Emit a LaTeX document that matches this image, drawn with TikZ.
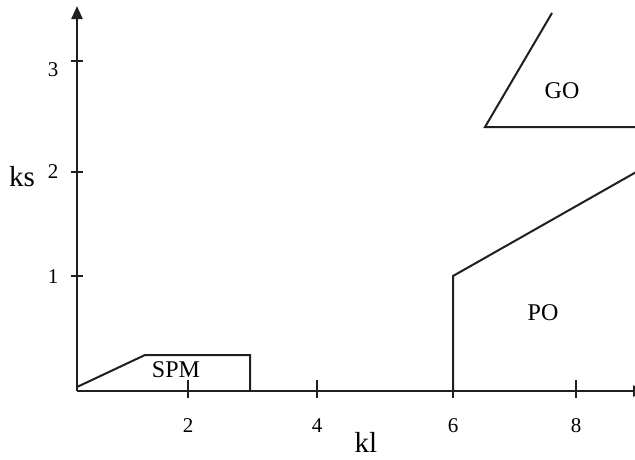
\documentclass[tikz,border=0pt]{standalone}
\usepackage{fontspec}
\setmainfont{Liberation Serif}
\usetikzlibrary{arrows.meta}
\begin{document}
\begin{tikzpicture}[x=1pt,y=-1pt,
  axisline/.style={line width=2.3pt,draw=black!88},
  regionline/.style={line width=2pt,draw=black!88},
  tickline/.style={line width=1.8pt,draw=black!88},
  numlabel/.style={font=\fontsize{21}{23}\selectfont,anchor=base,inner sep=0pt,text depth=0pt},
  axlabel/.style={font=\fontsize{29}{31}\selectfont,anchor=base,inner sep=0pt,text depth=0pt},
  reglabel/.style={font=\fontsize{24}{26}\selectfont,anchor=base,inner sep=0pt,text depth=0pt}]
\clip (0,0) rectangle (635,459);
\fill[white] (0,0) rectangle (635,459);
% axes
\coordinate (O) at (77,391);
\coordinate (ytop) at (77,6);
\coordinate (xend) at (646,391);
\draw[axisline,-{Triangle[width=11pt,length=13pt]}] (O) -- (ytop);
\draw[axisline,-{Triangle[width=11pt,length=13pt]}] (O) -- (xend);
% x ticks
\foreach \xx/\lab in {188/2,317/4,453/6,576/8}{
  \draw[tickline] (\xx,380) -- (\xx,398);
  \node[numlabel] (xl\lab) at (\xx,432) {\lab};
}
% y ticks
\foreach \yy/\lab/\bl in {61/3/76,172/2/178,276/1/283}{
  \draw[tickline] (71,\yy) -- (83,\yy);
  \node[numlabel] (yl\lab) at (53,\bl) {\lab};
}
\node[axlabel] (ks) at (22,186) {ks};
\node[axlabel] (kl) at (366,452) {kl};
% SPM region
\coordinate (s1) at (77,387);
\coordinate (s2) at (145,355);
\coordinate (s3) at (250,355);
\coordinate (s4) at (250,391);
\draw[regionline] (s1) -- (s2) -- (s3) -- (s4);
\node[reglabel] (spm) at (176,377) {SPM};
% PO region
\coordinate (p1) at (453,391);
\coordinate (p2) at (453,276);
\coordinate (p3) at (638,171);
\draw[regionline] (p1) -- (p2) -- (p3);
\node[reglabel] (po) at (543,320) {PO};
% GO region
\coordinate (g1) at (552,13);
\coordinate (g2) at (485,127);
\coordinate (g3) at (640,127);
\draw[regionline] (g1) -- (g2) -- (g3);
\node[reglabel] (go) at (562,98) {GO};
\end{tikzpicture}
\end{document}
